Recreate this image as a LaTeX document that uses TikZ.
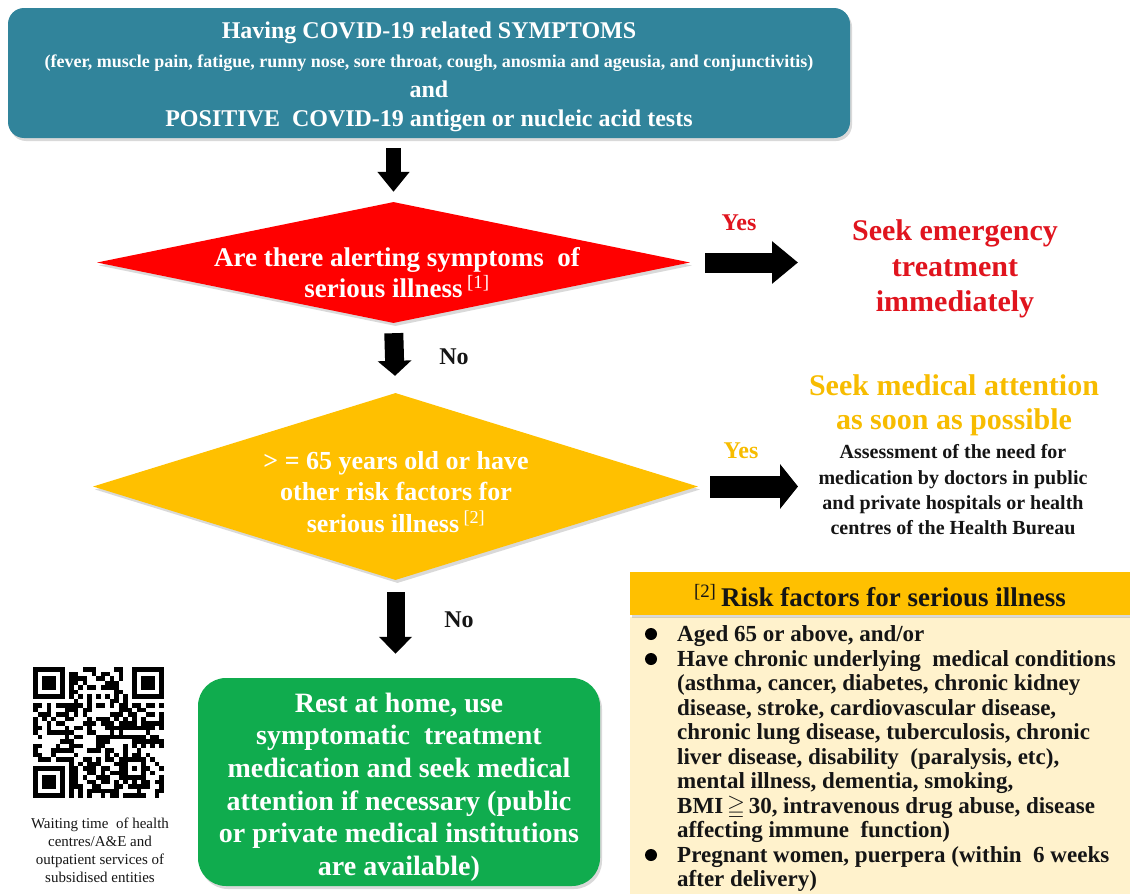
\documentclass[tikz,border=0pt]{standalone}
\usepackage{amssymb}
\usepackage{fontspec}
\setmainfont{Liberation Serif}
\usetikzlibrary{shapes.geometric,arrows.meta,shadows,calc}
\definecolor{cTeal}{HTML}{31849B}
\definecolor{cRed}{HTML}{FF0000}
\definecolor{cYel}{HTML}{FFC000}
\definecolor{cGreen}{HTML}{10AC4E}
\definecolor{cEmg}{HTML}{E0141E}
\definecolor{cYtxt}{HTML}{F7BC00}
\definecolor{cBody}{HTML}{FFF2CC}
\definecolor{cInk}{HTML}{151515}
\begin{document}
\begin{tikzpicture}[x=1pt,y=-1pt,
  shad/.style={drop shadow={opacity=0.3,shadow xshift=2pt,shadow yshift=-3pt}},
  txt/.style={align=center,inner sep=0pt},
  blk/.style={draw=black,line width=#1},
  sz/.style 2 args={font=\bfseries\fontsize{#1}{#2}\selectfont}]
\useasboundingbox (0,0) rectangle (1130,894);

% top box
\node[fill=cTeal,rounded corners=16pt,minimum width=842pt,minimum height=130pt,shad] (top) at (429,73) {};
\node[text=white,txt,sz={24}{29.5}] (topt) at (429,77)
  {Having COVID-19 related SYMPTOMS\\
   {\fontsize{18}{29.5}\selectfont (fever, muscle pain, fatigue, runny nose, sore throat, cough, anosmia and ageusia, and conjunctivitis)}\\
   and\\
   POSITIVE\ \ COVID-19 antigen or nucleic acid tests};

% red diamond
\node[diamond,fill=cRed,minimum width=593pt,minimum height=121pt,inner sep=0pt,shad] (d1) at (393.5,262.5) {};
\node[txt,text=white,sz={27}{31}] (d1t) at (397,273)
  {Are there alerting symptoms\ \ of\\serious illness\,\textsuperscript{\mdseries[1]}};

% yellow diamond
\node[diamond,fill=cYel,minimum width=605pt,minimum height=187pt,inner sep=0pt,shad] (d2) at (395.5,486.5) {};
\node[txt,text=white,sz={26}{31.5}] (d2t) at (396,492)
  {> = 65 years old or have\\other risk factors for\\serious illness\,\textsuperscript{\mdseries[2]}};

% green box
\node[fill=cGreen,rounded corners=28pt,minimum width=402pt,minimum height=208pt,shad] (green) at (399,782) {};
\node[text=white,txt,sz={28}{32.6}] (greent) at (399,787)
  {Rest at home, use\\symptomatic\ \ treatment\\medication and seek medical\\attention if necessary (public\\or private medical institutions\\are available)};

% outcome texts
\node[txt,text=cEmg,sz={30}{35.5}] (emg) at (955,269) {Seek emergency\\treatment\\immediately};
\node[txt,text=cYtxt,sz={30}{34}] (med) at (954,405) {Seek medical attention\\as soon as possible};
\node[txt,text=cInk,sz={20}{25.3}] (ass) at (953,490)
  {Assessment of the need for\\medication by doctors in public\\and private hospitals or health\\centres of the Health Bureau};

% labels
\node[txt,text=cEmg,sz={24}{28}] (y1) at (739,223) {Yes};
\node[txt,text=cYtxt,sz={24}{28}] (y2) at (741,451) {Yes};
\node[txt,text=cInk,sz={24}{28}] (n1) at (454,357) {No};
\node[txt,text=cInk,sz={24}{28}] (n2) at (459,620) {No};

% connectors (block arrows)
\coordinate (c1) at (798,263);
\coordinate (c2) at (798,486);
\draw[blk=15pt,-{Triangle[width=31pt,length=20pt]},shorten <=10pt,shorten >=10pt] (top.south -| d1.north) -- (d1.north);
\draw[blk=19pt,-{Triangle[width=33pt,length=15pt]},shorten <=10pt,shorten >=17pt] (d1.south) -- (d2.north);
\draw[blk=18pt,-{Triangle[width=32pt,length=17pt]},shorten <=12pt,shorten >=24pt] (d2.south) -- (green.north -| d2.south);
\draw[blk=20pt,-{Triangle[width=41pt,length=26pt]},shorten <=15pt] (d1.east) -- (c1 |- d1.east);
\draw[blk=22pt,-{Triangle[width=44pt,length=18pt]},shorten <=12pt] (d2.east) -- (c2 |- d2.east);

% risk factor panel
\node[fill=cBody,minimum width=500pt,minimum height=277pt,inner sep=0pt,anchor=north west] (rb) at (630,617) {};
\node[fill=cYel,minimum width=500pt,minimum height=43pt,inner sep=0pt,shad] (rh) at (880,593.5) {};
\node[txt,text=cInk,sz={27}{30}] (rht) at (880,596) {\textsuperscript{\mdseries[2]}\,Risk factors for serious illness};

\node[circle,fill=black,minimum size=12pt,inner sep=0pt] (b1) at (651,634) {};
\node[circle,fill=black,minimum size=12pt,inner sep=0pt] (b2) at (651,659) {};
\node[circle,fill=black,minimum size=12pt,inner sep=0pt] (b3) at (651,855) {};
\node[anchor=north west,inner sep=0pt,align=left,text=cInk,sz={23}{24.5}] (i1) at (677,625) {Aged 65 or above, and/or};
\node[anchor=north west,inner sep=0pt,align=left,text=cInk,sz={23}{24.5}] (i2) at (677,650) {Have chronic underlying\ \ medical conditions\\(asthma, cancer, diabetes, chronic kidney\\disease, stroke, cardiovascular disease,\\chronic lung disease, tuberculosis, chronic\\liver disease, disability\ \ (paralysis, etc),\\mental illness, dementia, smoking,\\BMI\,$\geqq$\,30, intravenous drug abuse, disease\\affecting immune\ \ function)};
\node[anchor=north west,inner sep=0pt,align=left,text=cInk,sz={23}{24.5}] (i3) at (677,846) {Pregnant women, puerpera (within\ \ 6 weeks\\after delivery)};

% QR code
\pgfmathsetseed{20221}
\foreach \i in {0,...,28}{
  \foreach \j in {0,...,28}{
    \pgfmathtruncatemacro\qres{or(or(and(\i<8,\j<8),and(\i>20,\j<8)),or(and(\i<8,\j>20),and(and(\i>19,\i<25),and(\j>19,\j<25))))}
    \pgfmathtruncatemacro\qtim{or(\i==6,\j==6)}
    \pgfmathrandominteger{\qval}{0}{99}
    \pgfmathtruncatemacro\qpar{mod(\i+\j,2)}
    \ifnum\qres=0
      \ifnum\qtim=1
        \ifnum\qpar=0 \fill ({33+\i*4.5},{667+\j*4.5}) rectangle ++(4.5,4.5);\fi
      \else
        \ifnum\qval<52 \fill ({33+\i*4.5},{667+\j*4.5}) rectangle ++(4.5,4.5);\fi
      \fi
    \fi
  }
}
\foreach \ox/\oy in {33/667,132/667,33/766}{
  \fill (\ox,\oy) rectangle ++(31.5,31.5);
  \fill[white] ({\ox+4.5},{\oy+4.5}) rectangle ++(22.5,22.5);
  \fill ({\ox+9},{\oy+9}) rectangle ++(13.5,13.5);
}
\fill (123,757) rectangle ++(22.5,22.5);
\fill[white] (127.5,761.5) rectangle ++(13.5,13.5);
\fill (132,766) rectangle ++(4.5,4.5);

\node[txt,font=\fontsize{15}{18}\selectfont,text=cInk] (cap) at (100,850)
  {Waiting time\ \ of health\\centres/A\&E and\\outpatient services of\\subsidised entities};
\end{tikzpicture}
\end{document}
